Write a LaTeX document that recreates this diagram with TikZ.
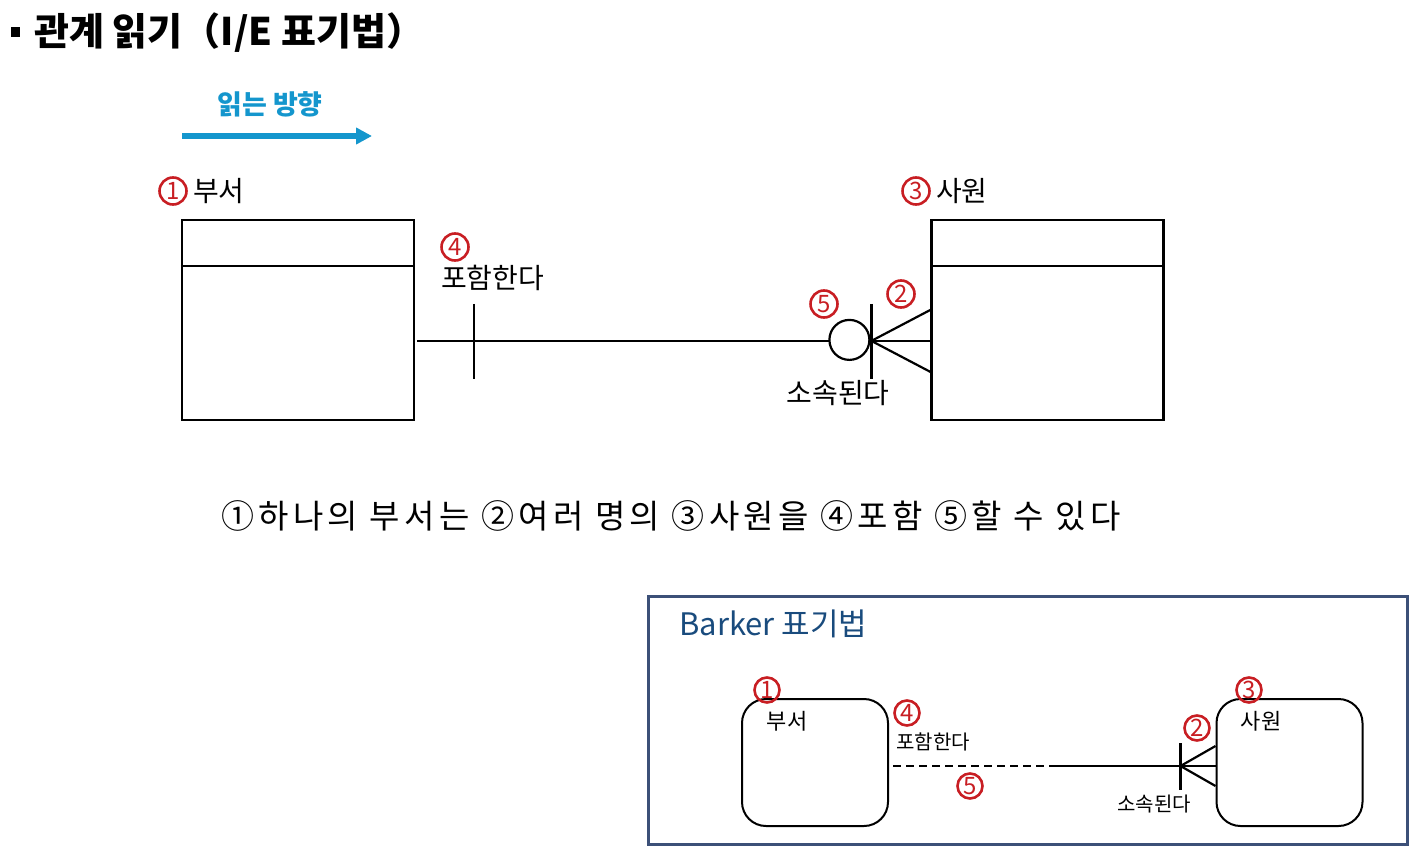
\documentclass[tikz,border=0pt]{standalone}
\usepackage{fontspec}
\setmainfont{Noto Sans CJK KR}
\usetikzlibrary{positioning,calc,arrows.meta}
\definecolor{numred}{RGB}{200,30,35}
\definecolor{readblue}{RGB}{20,150,205}
\definecolor{frameblue}{RGB}{60,80,120}
\definecolor{barkblue}{RGB}{25,75,125}
\tikzset{num/.style = {circle, draw=numred, line width=2.6pt, text=numred,
                       inner sep=0pt, minimum size=27pt,
                       font=\fontsize{24}{24}\selectfont}}
\tikzset{entity/.style = {draw, line width=2.2pt, minimum width=232pt,
                          minimum height=200pt, inner sep=0pt}}
\tikzset{rbox/.style = {draw, line width=2pt, rounded corners=24pt,
                        minimum width=146pt, minimum height=127pt, inner sep=0pt}}
\tikzset{lbl/.style = {font=\fontsize{28}{28}\selectfont, inner sep=0pt}}
\tikzset{slbl/.style = {font=\fontsize{20}{20}\selectfont, inner sep=0pt}}
\tikzset{rel/.style = {line width=2.2pt}}

\begin{document}
\begin{tikzpicture}[x=1pt,y=-1pt]
  \useasboundingbox (0,0) rectangle (1426,856);
  % title
  \fill (11,27) rectangle (20,37);
  \node[anchor=west, inner sep=0pt, font=\bfseries\fontsize{38}{38}\selectfont]
    (title) at (34,33) {관계 읽기（I/E 표기법）};
  \node[text=readblue, font=\bfseries\fontsize{27}{27}\selectfont]
    (dir) at (270,104) {읽는 방향};
  \coordinate (a0) at (182,136);
  \coordinate (a1) at (372,136);
  \draw[readblue, line width=5pt, -{Triangle[length=16pt,width=16pt]}] (a0) -- (a1);

  % I/E entities
  \node[entity] (dept) at (298,320) {};
  \draw[rel] ($(dept.north west)+(0,47)$) -- ($(dept.north east)+(0,47)$);
  \node[entity] (emp) at (1047.5,320) {};
  \draw[rel] ($(emp.north west)+(0,47)$) -- ($(emp.north east)+(0,47)$);
  \node[num] (n1) at (173,191) {1};
  \node[lbl, right=5pt of n1] (deptname) {부서};
  \node[num] (n3) at (916,191) {3};
  \node[lbl, right=5pt of n3] (empname) {사원};

  % relationship
  \coordinate (p0) at ($(dept.north east)+(2,122)$);
  \coordinate (p1) at ($(emp.north west)+(0,122)$);
  \draw[rel] (p0) -- (p1);
  \draw[rel] ($(p0)+(57,-37)$) -- ($(p0)+(57,38)$);
  \node[circle, draw, line width=2.2pt, fill=white, minimum size=40pt,
        inner sep=0pt] (opt) at ($(p1)+(-81,-1)$) {};
  \coordinate (crow) at ($(p1)+(-59,0)$);
  \draw[rel] ($(crow)+(0,-37)$) -- ($(crow)+(0,38)$);
  \draw[rel] ($(p1)+(0,-31)$) -- (crow) -- ($(p1)+(0,31)$);
  \node[num] (n4) at (455,247) {4};
  \node[lbl, anchor=west] (incl) at (441,278) {포함한다};
  \node[num] (n5) at (824,304) {5};
  \node[num] (n2) at (901,294) {2};
  \node[lbl] (belong) at (838,393) {소속된다};

  % sentence
  \node[font=\fontsize{33}{33}\selectfont\addfontfeature{LetterSpace=13},
        inner sep=0pt] (sent) at (671,516)
    {①하나의 부서는 ②여러 명의 ③사원을 ④포함 ⑤할 수 있다};

  % Barker
  \node[draw=frameblue, line width=3pt, minimum width=759pt, minimum height=248pt,
        inner sep=0pt] (bframe) at (1027.5,720) {};
  \node[anchor=west, text=barkblue, inner sep=0pt, font=\fontsize{31}{31}\selectfont]
    (btitle) at (679,624) {Barker 표기법};
  \node[rbox] (bdept) at (815,762.5) {};
  \node[rbox] (bemp) at (1289.5,762.5) {};
  \node[num, minimum size=25pt] (m1) at (767,690) {1};
  \node[slbl, font=\fontsize{22}{22}\selectfont] (bdeptname) at (787,721) {부서};
  \node[num, minimum size=25pt] (m3) at (1249,690) {3};
  \node[slbl, font=\fontsize{22}{22}\selectfont] (bempname) at (1261,721) {사원};
  \coordinate (q0) at ($(bdept.east)+(4,3.5)$);
  \coordinate (qm) at ($(q0)+(156,0)$);
  \coordinate (q1) at ($(bemp.west)+(0,3.5)$);
  \draw[rel, dash pattern=on 8pt off 5pt] (q0) -- (qm);
  \draw[rel] (qm) -- (q1);
  \coordinate (bcrow) at ($(q1)+(-35,0)$);
  \draw[rel] ($(bcrow)+(0,-23)$) -- ($(bcrow)+(0,24)$);
  \draw[rel] ($(q1)+(0,-20)$) -- (bcrow) -- ($(q1)+(0,20)$);
  \node[num, minimum size=25pt] (m4) at (907,713) {4};
  \node[slbl, anchor=west] (bincl) at (896,742) {포함한다};
  \node[num, minimum size=25pt] (m5) at (970,786) {5};
  \node[num, minimum size=25pt] (m2) at (1197,728) {2};
  \node[slbl] (bbelong) at (1154,804) {소속된다};
\end{tikzpicture}
\end{document}
